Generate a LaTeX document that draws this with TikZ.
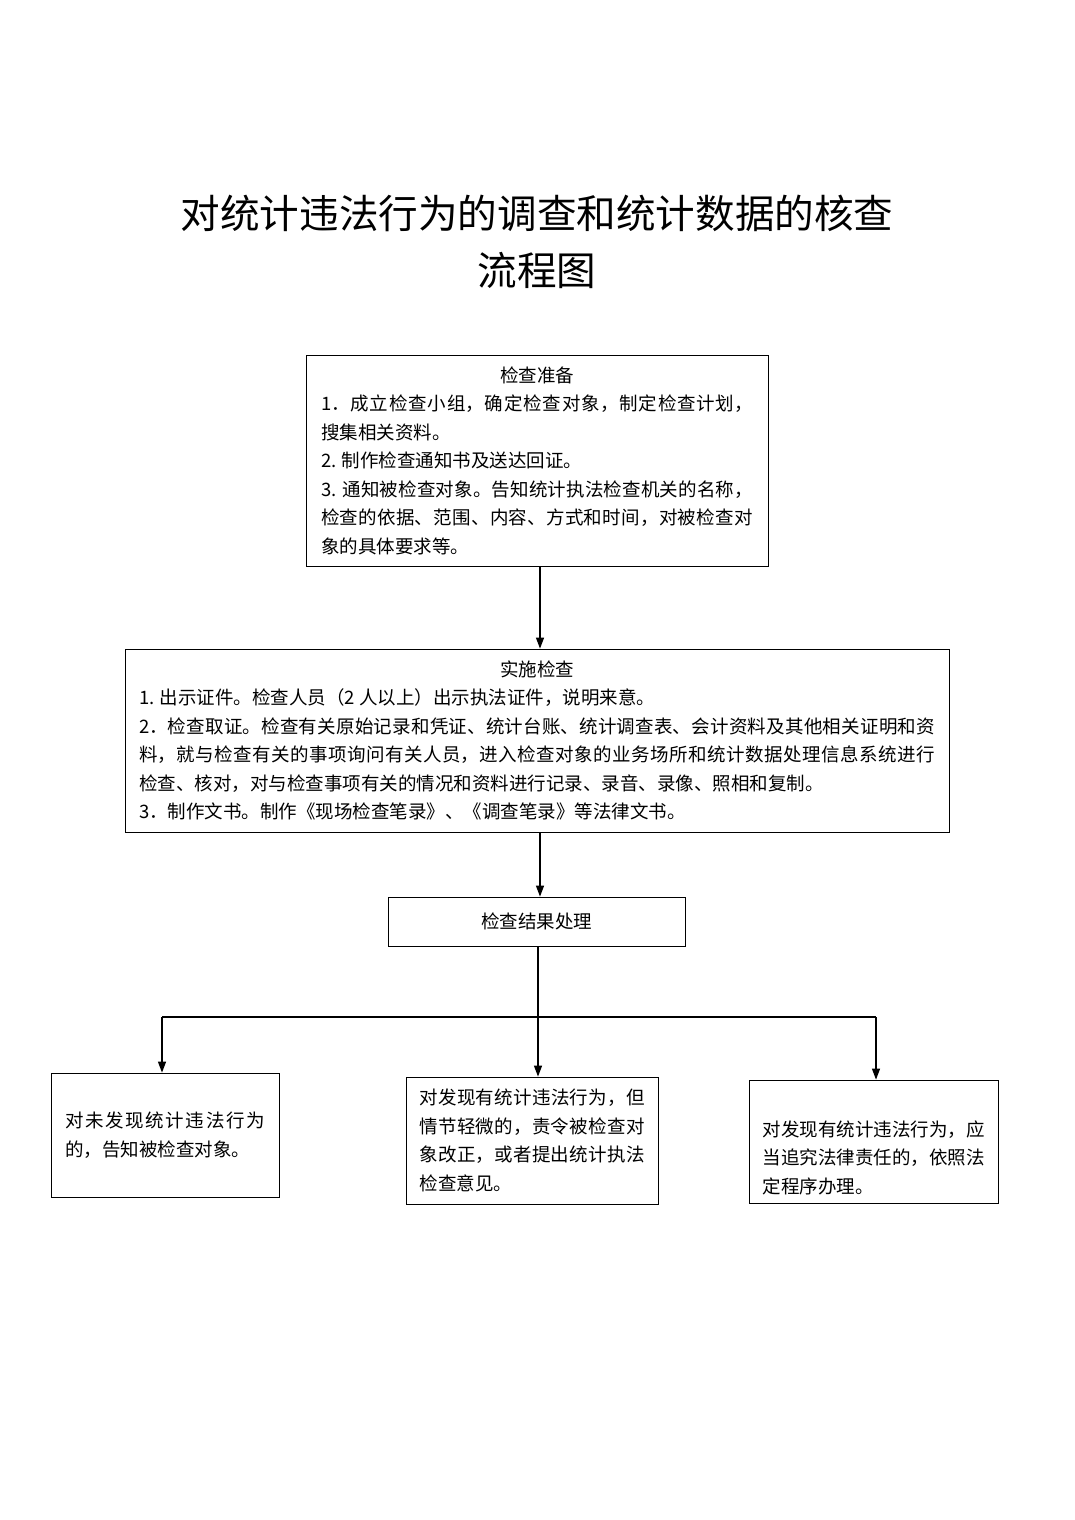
\documentclass[tikz,border=0pt]{standalone}
\usepackage{fontspec}
\setmainfont{Noto Sans CJK SC}
\usepackage{tikz}
\usetikzlibrary{arrows, arrows.meta}
\XeTeXlinebreaklocale "zh"
\XeTeXlinebreakskip = 0pt plus 2pt
\tikzstyle{standard} = [rectangle, draw=black, line width=0.8pt, align=justify, inner sep=0pt, font=\fontsize{18.5}{28.5}\selectfont]
\tikzstyle{heading} = [align=center, font=\fontsize{39.6}{57}\selectfont]
\tikzstyle{arrow} = [line width=1.3pt,->,>={Triangle[length=11pt,width=8pt]}]
\tikzstyle{joint} = [line width=1.3pt]

\begin{document}
\begin{tikzpicture}[x=1pt, y=-1pt]
	\useasboundingbox (0,0) rectangle (1075,1520);

	\node (title) [heading] at (537,242) {对统计违法行为的调查和统计数据的核查\\流程图};

	\node (prep) [standard, text width=432, minimum width=462, minimum height=211] at (537,460.5) {\makebox[\linewidth]{检查准备}\par 1．成立检查小组，确定检查对象，制定检查计划，\linebreak 搜集相关资料。\par 2. 制作检查通知书及送达回证。\par 3. 通知被检查对象。告知统计执法检查机关的名称，\linebreak 检查的依据、范围、内容、方式和时间，对被检查对\linebreak 象的具体要求等。};
	\node (impl) [standard, text width=796, minimum width=824, minimum height=183] at (537,740.5) {\makebox[\linewidth]{实施检查}\par 1. 出示证件。检查人员（2 人以上）出示执法证件，说明来意。\par 2．检查取证。检查有关原始记录和凭证、统计台账、统计调查表、会计资料及其他相关证明和资\linebreak 料，就与检查有关的事项询问有关人员，进入检查对象的业务场所和统计数据处理信息系统进行\linebreak 检查、核对，对与检查事项有关的情况和资料进行记录、录音、录像、照相和复制。\par 3．制作文书。制作《现场检查笔录》、《调查笔录》等法律文书。};
	\node (result) [standard, align=center, minimum width=297, minimum height=49] at (536.5,921.5) {检查结果处理};

	\node (none) [standard, text width=200, minimum width=228, minimum height=124] at (165,1135) {对未发现统计违法行为\linebreak 的，告知被检查对象。};
	\node (minor) [standard, text width=225, minimum width=252, minimum height=127] at (532,1140.5) {对发现有统计违法行为，但\linebreak 情节轻微的，责令被检查对\linebreak 象改正，或者提出统计执法\linebreak 检查意见。};
	\node (legal) [standard, text width=222, minimum width=249, minimum height=123] at (873.5,1141.5) {\rule{0pt}{48pt}对发现有统计违法行为，应\linebreak 当追究法律责任的，依照法\linebreak 定程序办理。};

	\coordinate (split) at (538,1017);
	\coordinate (splitleft) at (162,1017);
	\coordinate (splitright) at (876,1017);

	\draw [arrow] ([xshift=3pt]prep.south) -- ([xshift=3pt]prep.south |- impl.north);
	\draw [arrow] ([xshift=3pt]impl.south) -- ([xshift=3pt]impl.south |- result.north);
	\draw [joint] (result.south -| split) -- (split);
	\draw [joint] (splitleft) -- (splitright);
	\draw [arrow] (splitleft) -- (splitleft |- none.north);
	\draw [arrow] (split) -- (split |- minor.north);
	\draw [arrow] (splitright) -- (splitright |- legal.north);

\end{tikzpicture}
\end{document}
